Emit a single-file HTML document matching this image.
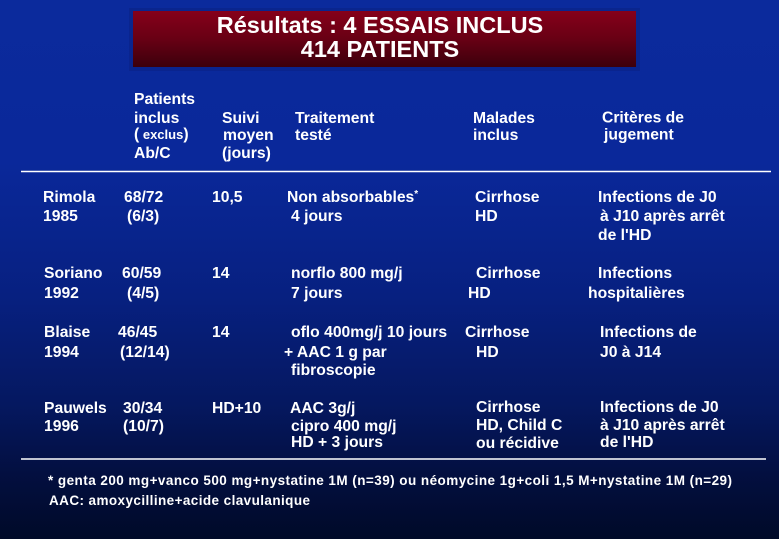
<!DOCTYPE html>
<html>
<head>
<meta charset="utf-8">
<style>
html,body{margin:0;padding:0;width:779px;height:539px;overflow:hidden;background:#000a28;}
svg{display:block;}
text{font-family:"Liberation Sans",Arial,sans-serif;font-weight:bold;fill:#ffffff;}
.b{font-size:15.7px;}
.t{font-size:23.5px;}
.f{font-size:13.5px;}
</style>
</head>
<body>
<svg width="779" height="539" viewBox="0 0 779 539" xmlns="http://www.w3.org/2000/svg">
<defs>
<linearGradient id="bg" x1="0" y1="0" x2="0" y2="1">
<stop offset="0" stop-color="#0b2a9c"/>
<stop offset="0.3" stop-color="#0a289a"/>
<stop offset="0.55" stop-color="#072080"/>
<stop offset="0.75" stop-color="#051860"/>
<stop offset="0.88" stop-color="#030f40"/>
<stop offset="1" stop-color="#000a28"/>
</linearGradient>
<linearGradient id="rd" x1="0" y1="0" x2="0" y2="1">
<stop offset="0" stop-color="#86001a"/>
<stop offset="0.5" stop-color="#680014"/>
<stop offset="1" stop-color="#3c000c"/>
</linearGradient>
</defs>
<rect x="0" y="0" width="779" height="539" fill="url(#bg)"/>
<rect x="129" y="8" width="511" height="63" fill="#08207e" opacity="0.45"/>
<rect x="133" y="11" width="503" height="56" fill="url(#rd)"/>
<text class="t" x="380" y="33" text-anchor="middle">Résultats : 4 ESSAIS INCLUS</text>
<text class="t" x="380" y="57" text-anchor="middle">414 PATIENTS</text>

<!-- headers -->
<text class="b" x="134" y="104">Patients</text>
<text class="b" x="134" y="123">inclus</text>
<text class="b" x="134" y="139">(<tspan font-size="13px"> exclus</tspan>)</text>
<text class="b" x="134" y="158">Ab/C</text>
<text class="b" x="222" y="123">Suivi</text>
<text class="b" x="223" y="140">moyen</text>
<text class="b" x="222" y="158">(jours)</text>
<text class="b" x="295" y="123">Traitement</text>
<text class="b" x="295" y="140">testé</text>
<text class="b" x="473" y="123">Malades</text>
<text class="b" x="473" y="140">inclus</text>
<text class="b" x="602" y="122.5">Critères de</text>
<text class="b" x="604" y="139.5">jugement</text>

<line x1="21" y1="171.5" x2="771" y2="171.5" stroke="#ffffff" stroke-width="1.5"/>

<!-- row 1 -->
<text class="b" x="43" y="202">Rimola</text>
<text class="b" x="43" y="221">1985</text>
<text class="b" x="124" y="202">68/72</text>
<text class="b" x="127" y="221">(6/3)</text>
<text class="b" x="212" y="202">10,5</text>
<text class="b" x="287" y="202">Non absorbables<tspan font-size="10px" dy="-5">*</tspan></text>
<text class="b" x="291" y="221">4 jours</text>
<text class="b" x="475" y="202">Cirrhose</text>
<text class="b" x="475" y="221">HD</text>
<text class="b" x="598" y="202">Infections de J0</text>
<text class="b" x="600" y="221">à J10 après arrêt</text>
<text class="b" x="598" y="240">de l'HD</text>

<!-- row 2 -->
<text class="b" x="44" y="278">Soriano</text>
<text class="b" x="44" y="298">1992</text>
<text class="b" x="122" y="278">60/59</text>
<text class="b" x="127" y="298">(4/5)</text>
<text class="b" x="212" y="278">14</text>
<text class="b" x="291" y="278">norflo 800 mg/j</text>
<text class="b" x="291" y="298">7 jours</text>
<text class="b" x="476" y="278">Cirrhose</text>
<text class="b" x="468" y="298">HD</text>
<text class="b" x="598" y="278">Infections</text>
<text class="b" x="588" y="298">hospitalières</text>

<!-- row 3 -->
<text class="b" x="44" y="337">Blaise</text>
<text class="b" x="44" y="357">1994</text>
<text class="b" x="118" y="337">46/45</text>
<text class="b" x="120" y="357">(12/14)</text>
<text class="b" x="212" y="337">14</text>
<text class="b" x="291" y="337">oflo 400mg/j 10 jours</text>
<text class="b" x="284" y="357">+ AAC 1 g par</text>
<text class="b" x="291" y="375">fibroscopie</text>
<text class="b" x="465" y="337">Cirrhose</text>
<text class="b" x="476" y="357">HD</text>
<text class="b" x="600" y="337">Infections de</text>
<text class="b" x="600" y="357">J0 à J14</text>

<!-- row 4 -->
<text class="b" x="44" y="413">Pauwels</text>
<text class="b" x="44" y="431">1996</text>
<text class="b" x="123" y="413">30/34</text>
<text class="b" x="123" y="431">(10/7)</text>
<text class="b" x="212" y="413">HD+10</text>
<text class="b" x="290" y="413">AAC 3g/j</text>
<text class="b" x="291" y="431">cipro 400 mg/j</text>
<text class="b" x="291" y="447">HD + 3 jours</text>
<text class="b" x="476" y="412">Cirrhose</text>
<text class="b" x="476" y="430">HD, Child C</text>
<text class="b" x="476" y="448">ou récidive</text>
<text class="b" x="600" y="412">Infections de J0</text>
<text class="b" x="600" y="430">à J10 après arrêt</text>
<text class="b" x="600" y="447">de l'HD</text>

<line x1="21" y1="459" x2="766" y2="459" stroke="#ffffff" stroke-width="1.5"/>

<text class="f" x="48" y="485" textLength="684" lengthAdjust="spacing">* genta 200 mg+vanco 500 mg+nystatine 1M (n=39) ou néomycine 1g+coli 1,5 M+nystatine 1M (n=29)</text>
<text class="f" x="49" y="505" textLength="261" lengthAdjust="spacing">AAC: amoxycilline+acide clavulanique</text>
</svg>
</body>
</html>
